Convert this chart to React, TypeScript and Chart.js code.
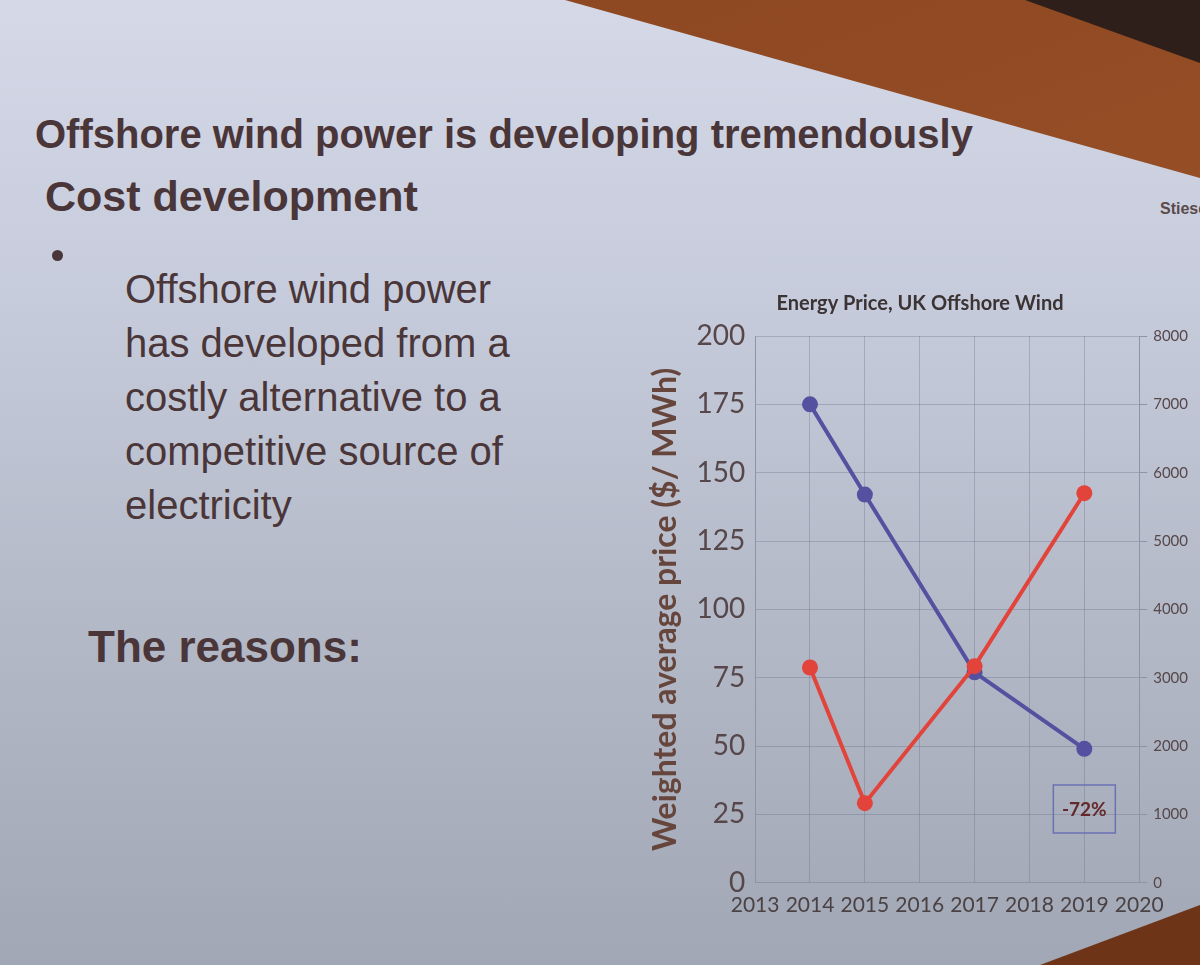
import { useEffect, useRef } from "react";
import Chart from "chart.js/auto";
import type { Plugin } from "chart.js";

// UK offshore wind auction rounds
const auctionYears = [2014, 2015, 2017, 2019];
const priceUsdPerMwh = [175, 142, 77, 49];
const capacityMw = [3150, 1165, 3170, 5700];

const yearRange = [2013, 2020];
const priceRange = [0, 200];
const capacityRange = [0, 8000];

const reductionLabel = "-72%";
const reductionAt = { year: 2019, price: 27 };

const bulletLines = [
  "Offshore wind power",
  "has developed from a",
  "costly alternative to a",
  "competitive source of",
  "electricity",
];

const textColor = "#4a3638";
const tickColor = "#56474a";
const gridColor = "rgba(100, 106, 124, 0.32)";
const axisColor = "#8e94a6";

const reductionBox: Plugin<"line"> = {
  id: "reductionBox",
  afterDatasetsDraw(chart) {
    const { ctx, scales } = chart;
    const cx = scales.x.getPixelForValue(reductionAt.year);
    const cy = scales.y.getPixelForValue(reductionAt.price);
    const w = 62;
    const h = 48;
    ctx.save();
    ctx.strokeStyle = "#6a72b4";
    ctx.lineWidth = 1.5;
    ctx.strokeRect(cx - w / 2, cy - h / 2, w, h);
    ctx.fillStyle = "#64292b";
    ctx.font = "bold 19px Lato";
    ctx.textAlign = "center";
    ctx.textBaseline = "middle";
    ctx.fillText(reductionLabel, cx, cy + 1);
    ctx.restore();
  },
};

function PriceChart() {
  const canvasRef = useRef<HTMLCanvasElement | null>(null);

  useEffect(() => {
    if (!canvasRef.current) return;
    const ctx = canvasRef.current.getContext("2d");
    if (!ctx) return;

    const chart = new Chart(ctx, {
      type: "line",
      data: {
        datasets: [
          {
            label: "Capacity (MW)",
            data: auctionYears.map((x, i) => ({ x, y: capacityMw[i] })),
            yAxisID: "y1",
            borderColor: "#e2433b",
            backgroundColor: "#e2433b",
            borderWidth: 4,
            pointRadius: 8,
            pointBorderWidth: 0,
          },
          {
            label: "Weighted average price",
            data: auctionYears.map((x, i) => ({ x, y: priceUsdPerMwh[i] })),
            yAxisID: "y",
            borderColor: "#5351a0",
            backgroundColor: "#5351a0",
            borderWidth: 4,
            pointRadius: 8,
            pointBorderWidth: 0,
          },
        ],
      },
      options: {
        animation: false,
        responsive: true,
        maintainAspectRatio: false,
        layout: { padding: { left: 0, right: 6, top: 0, bottom: 30 } },
        font: { family: "Lato" },
        plugins: {
          legend: { display: false },
          tooltip: { enabled: false },
          title: {
            display: true,
            text: "Energy Price, UK Offshore Wind",
            color: "#3b3334",
            font: { family: "Lato", size: 20, weight: "bold" },
            padding: { top: 2, bottom: 20 },
          },
        },
        scales: {
          x: {
            type: "linear",
            min: yearRange[0],
            max: yearRange[1],
            ticks: {
              stepSize: 1,
              callback: (v) => String(v),
              color: "#4a4244",
              font: { family: "Lato", size: 21 },
              maxRotation: 0,
              autoSkip: false,
              padding: 10,
            },
            grid: { color: gridColor, drawTicks: false },
            border: { color: axisColor },
          },
          y: {
            position: "left",
            min: priceRange[0],
            max: priceRange[1],
            ticks: {
              stepSize: 25,
              color: tickColor,
              font: { family: "Lato", size: 28 },
              padding: 10,
            },
            grid: { color: gridColor, drawTicks: false },
            border: { color: axisColor },
            title: {
              display: true,
              text: "Weighted average price ($/ MWh)",
              color: "#66463c",
              font: { family: "Lato", size: 32, weight: "bold" },
              padding: { top: 0, bottom: 2 },
            },
          },
          y1: {
            position: "right",
            min: capacityRange[0],
            max: capacityRange[1],
            ticks: {
              stepSize: 1000,
              callback: (v) => String(v),
              color: tickColor,
              font: { family: "Lato", size: 15 },
              padding: 6,
            },
            grid: {
              drawOnChartArea: false,
              drawTicks: true,
              tickLength: 8,
              color: axisColor,
            },
            border: { color: axisColor },
          },
        },
      },
      plugins: [reductionBox],
    });

    return () => {
      chart.destroy();
    };
  }, []);

  return <canvas ref={canvasRef} />;
}

export default function App() {
  return (
    <div
      style={{
        position: "fixed",
        left: 0,
        top: 0,
        width: 1200,
        height: 965,
        overflow: "hidden",
        background:
          "linear-gradient(180deg, #d4d8e7 0%, #c7ccdc 30%, #b4bac8 62%, #a1a7b4 100%)",
        fontFamily: "'Liberation Sans', Arial, sans-serif",
        color: textColor,
      }}
    >
      {/* wall behind the screen */}
      <div
        style={{
          position: "absolute",
          inset: 0,
          background: "linear-gradient(160deg, #8a4520 0%, #a3592c 100%)",
          clipPath: "polygon(565px 0, 1200px 0, 1200px 178px)",
        }}
      />
      <div
        style={{
          position: "absolute",
          inset: 0,
          background: "#2e1f1a",
          clipPath: "polygon(1025px 0, 1200px 0, 1200px 63px)",
        }}
      />
      <div
        style={{
          position: "absolute",
          inset: 0,
          background: "#6e3418",
          clipPath: "polygon(1040px 965px, 1200px 905px, 1200px 965px)",
        }}
      />

      <div
        style={{
          position: "absolute",
          left: 1160,
          top: 200,
          fontSize: 16,
          fontWeight: "bold",
          whiteSpace: "nowrap",
          color: "#5a4a4c",
        }}
      >
        Stiesdal
      </div>

      <div
        style={{
          position: "absolute",
          left: 35,
          top: 112,
          fontSize: 40,
          fontWeight: "bold",
          whiteSpace: "nowrap",
        }}
      >
        Offshore wind power is developing tremendously
      </div>
      <div
        style={{
          position: "absolute",
          left: 45,
          top: 172,
          fontSize: 43,
          fontWeight: "bold",
          whiteSpace: "nowrap",
        }}
      >
        Cost development
      </div>
      <div
        style={{
          position: "absolute",
          left: 52,
          top: 250,
          width: 11,
          height: 11,
          borderRadius: "50%",
          background: textColor,
        }}
      />
      <div
        style={{
          position: "absolute",
          left: 125,
          top: 262,
          fontSize: 40,
          lineHeight: "54px",
          whiteSpace: "nowrap",
        }}
      >
        {bulletLines.map((line) => (
          <div key={line}>{line}</div>
        ))}
      </div>
      <div
        style={{
          position: "absolute",
          left: 88,
          top: 622,
          fontSize: 44,
          fontWeight: "bold",
          whiteSpace: "nowrap",
        }}
      >
        The reasons:
      </div>

      <div
        style={{
          position: "absolute",
          left: 646,
          top: 290,
          width: 554,
          height: 668,
        }}
      >
        <PriceChart />
      </div>
    </div>
  );
}
